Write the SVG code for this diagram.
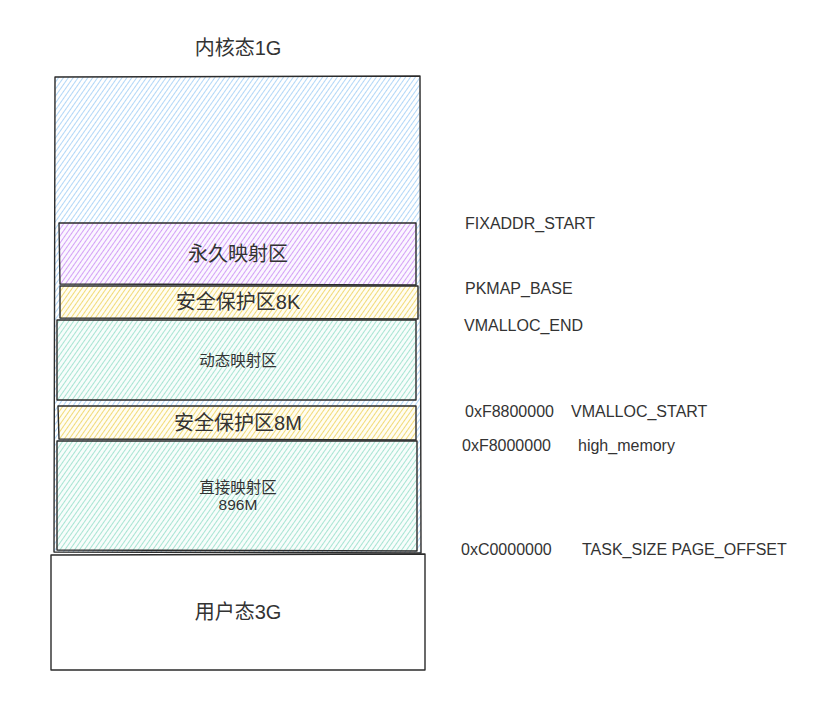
<svg xmlns="http://www.w3.org/2000/svg" width="839" height="705" viewBox="0 0 839 705">
<style>
.box{stroke:#2b2b2b;stroke-width:1.4;stroke-linejoin:round}
.t{font-family:"Liberation Sans","Noto Sans CJK SC",sans-serif;fill:#333;text-anchor:middle;dominant-baseline:central}
.big{font-size:20px}
.small{font-size:15.5px}
.lbl{font-family:"Liberation Sans",sans-serif;font-size:16px;fill:#333;dominant-baseline:central}
</style>
<defs>
<pattern id="hBlue" patternUnits="userSpaceOnUse" width="4" height="4" patternTransform="rotate(35)">
<rect width="4" height="4" fill="#ffffff"/><line x1="0" y1="0" x2="0" y2="4" stroke="#a9d3f7" stroke-width="1.8"/>
</pattern>
<pattern id="hPurple" patternUnits="userSpaceOnUse" width="4" height="4" patternTransform="rotate(35)">
<rect width="4" height="4" fill="#fbf6ff"/><line x1="0" y1="0" x2="0" y2="4" stroke="#cf98f6" stroke-width="1.8"/>
</pattern>
<pattern id="hYellow" patternUnits="userSpaceOnUse" width="4" height="4" patternTransform="rotate(35)">
<rect width="4" height="4" fill="#fffdf2"/><line x1="0" y1="0" x2="0" y2="4" stroke="#f0d66a" stroke-width="1.8"/>
</pattern>
<pattern id="hGreen" patternUnits="userSpaceOnUse" width="4" height="4" patternTransform="rotate(35)">
<rect width="4" height="4" fill="#f7fdfb"/><line x1="0" y1="0" x2="0" y2="4" stroke="#9fe2cf" stroke-width="1.8"/>
</pattern>
</defs>
<g id="title"><text class="t big" x="238" y="48">内核态1G</text></g>
<g id="kernel">
<path class="box" fill="url(#hBlue)" d="M55 77 L420 76 L421 553 L54 552 Z"/>
</g>
<g id="permanent">
<path class="box" fill="url(#hPurple)" d="M59 223 L416 223 L416 285 L60 284 Z"/>
<text class="t big" x="238" y="254">永久映射区</text>
</g>
<g id="guard8k">
<path class="box" fill="url(#hYellow)" d="M60 286 L418 286 L418 319 L60 318 Z"/>
<text class="t big" x="238" y="302">安全保护区8K</text>
</g>
<g id="vmalloc">
<path class="box" fill="url(#hGreen)" d="M57 320 L416 320 L416 400 L57 400 Z"/>
<text class="t small" x="238" y="360">动态映射区</text>
</g>
<g id="guard8m">
<path class="box" fill="url(#hYellow)" d="M58 406 L416 406 L416 440 L59 439 Z"/>
<text class="t big" x="238" y="423">安全保护区8M</text>
</g>
<g id="direct">
<path class="box" fill="url(#hGreen)" d="M57 441 L417 441 L417 551 L57 550 Z"/>
<text class="t small" x="238" y="487">直接映射区</text>
<text class="t small" x="238" y="504">896M</text>
</g>
<g id="user">
<path class="box" fill="#ffffff" d="M51 555 L425 554 L425 670 L51 670 Z"/>
<text class="t big" x="238" y="612">用户态3G</text>
</g>
<g id="labels">
<text class="lbl" x="465" y="223">FIXADDR_START</text>
<text class="lbl" x="465" y="288">PKMAP_BASE</text>
<text class="lbl" x="464" y="325">VMALLOC_END</text>
<text class="lbl" x="465" y="411">0xF8800000</text>
<text class="lbl" x="571" y="411">VMALLOC_START</text>
<text class="lbl" x="462" y="445">0xF8000000</text>
<text class="lbl" x="578" y="445">high_memory</text>
<text class="lbl" x="461" y="549">0xC0000000</text>
<text class="lbl" x="582" y="549">TASK_SIZE PAGE_OFFSET</text>
</g>
<g id="connectors"></g>
</svg>
